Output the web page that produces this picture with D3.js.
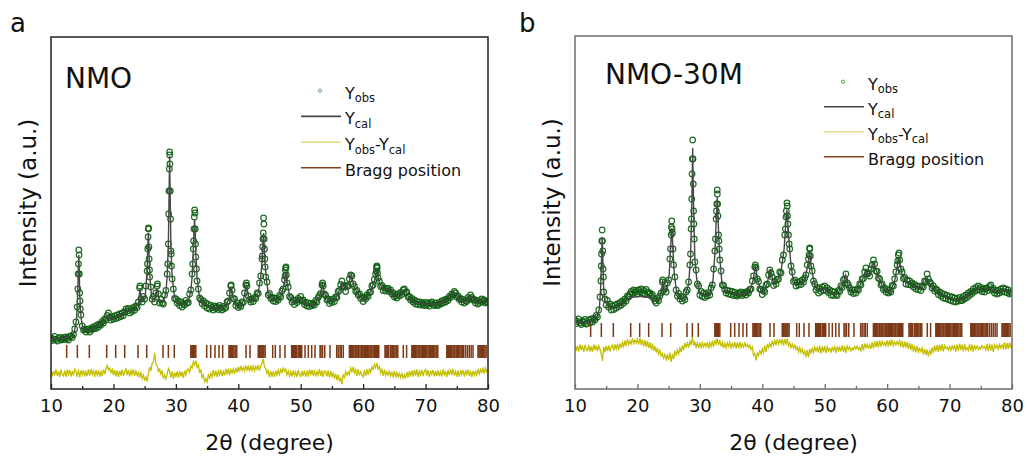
<!DOCTYPE html>
<html>
<head>
<meta charset="utf-8">
<script src="https://cdn.jsdelivr.net/npm/d3@7"></script>
<style>
  body { margin: 0; background: #fff; }
  svg { display: block; font-family: "DejaVu Sans", Verdana, sans-serif; }
</style>
</head>
<body>
<svg id="chart" width="1027" height="461"></svg>
<script>
// 2theta axis
const xTicks = [10, 20, 30, 40, 50, 60, 70, 80];
const xMinorTicks = [15, 25, 35, 45, 55, 65, 75];
const step = 0.2; // scan step of the observed rows below

// ---- NMO (a) ----
// observed intensity, each row = [start 2theta, values every 0.2 deg]
const obsA = [
  [10, 510, 485, 500, 525, 495, 480, 505, 515, 490, 500],
  [12, 515, 495, 520, 505, 490, 525, 530, 515, 545, 600],
  [14, 670, 820, 1250, 960, 740, 630, 590, 600, 570, 595],
  [16, 600, 570, 590, 615, 600, 625, 605, 640, 620, 650],
  [18, 640, 675, 660, 700, 690, 735, 760, 715, 690, 720],
  [20, 700, 730, 705, 740, 715, 750, 725, 760, 735, 770],
  [22, 800, 780, 805, 760, 795, 775, 815, 790, 830, 815],
  [24, 870, 1010, 900, 870, 925, 900, 1030, 1180, 1600, 1120],
  [26, 1020, 900, 925, 870, 960, 1030, 950, 860, 895, 860],
  [28, 850, 940, 985, 1150, 1450, 2370, 1380, 1100, 1000, 905],
  [30, 900, 860, 880, 835, 870, 820, 855, 840, 885, 860],
  [32, 865, 950, 990, 1150, 1400, 1790, 1320, 1080, 1000, 910],
  [34, 895, 855, 880, 830, 860, 810, 845, 800, 835, 815],
  [36, 790, 830, 805, 820, 795, 835, 810, 790, 825, 805],
  [38, 815, 870, 880, 960, 1030, 990, 905, 900, 835, 860],
  [40, 815, 840, 825, 870, 865, 960, 1040, 1030, 930, 895],
  [42, 870, 900, 875, 915, 905, 960, 955, 1060, 1130, 1300],
  [44, 1560, 1400, 1120, 1070, 940, 955, 905, 915, 880, 910],
  [46, 875, 905, 890, 935, 920, 980, 1000, 1090, 1210, 1060],
  [48, 1020, 925, 915, 870, 890, 845, 885, 865, 905, 890],
  [50, 925, 880, 890, 845, 865, 830, 860, 825, 855, 835],
  [52, 855, 840, 885, 870, 915, 935, 955, 1040, 1030, 950],
  [54, 935, 890, 900, 855, 885, 865, 900, 875, 920, 915],
  [56, 975, 985, 1045, 1080, 1020, 1030, 975, 1035, 1030, 1100],
  [58, 1140, 1130, 1050, 1025, 975, 985, 940, 950, 905, 920],
  [60, 875, 915, 900, 940, 925, 965, 970, 1030, 1040, 1095],
  [62, 1150, 1230, 1110, 1075, 1025, 1035, 985, 1010, 980, 1005],
  [64, 1005, 975, 990, 950, 960, 920, 935, 910, 950, 930],
  [66, 965, 945, 990, 1000, 965, 970, 920, 925, 890, 905],
  [68, 870, 890, 850, 875, 845, 870, 840, 865, 850, 835],
  [70, 865, 840, 860, 830, 855, 870, 845, 835, 860, 840],
  [72, 835, 865, 850, 880, 860, 890, 870, 900, 885, 925],
  [74, 915, 950, 940, 975, 960, 920, 930, 895, 905, 870],
  [76, 895, 860, 885, 875, 915, 900, 940, 915, 890, 895],
  [78, 860, 880, 850, 885, 865, 900, 875, 890, 860, 875],
  [80, 865]
];
// extra observed points on the flanks of the sharp peaks
const obsPeaksA = [
  [14.3, 1000], [14.35, 1150], [14.45, 1390], [14.5, 1340], [14.55, 1150], [14.65, 880], [14.7, 800],
  [24.25, 1030], [27.05, 1050],
  [25.45, 1250], [25.5, 1400], [25.55, 1520], [25.62, 1610], [25.68, 1420], [25.72, 1300], [25.78, 1190],
  [28.7, 1250], [28.85, 1750], [28.9, 1980], [28.95, 2200], [29.02, 2340], [29.05, 2250], [29.1, 1980],
  [29.15, 1700], [29.25, 1350], [29.3, 1230],
  [32.7, 1250], [32.85, 1480], [32.9, 1600], [32.95, 1720], [33.05, 1760], [33.1, 1600], [33.15, 1450], [33.3, 1200],
  [38.85, 1040], [41.3, 1060],
  [43.85, 1330], [43.9, 1420], [43.95, 1500], [44.05, 1710], [44.1, 1650], [44.15, 1500], [44.25, 1300], [44.3, 1220],
  [47.5, 1130], [47.55, 1190], [47.65, 1220], [47.7, 1140], [53.5, 1060],
  [62.1, 1180], [62.15, 1220], [62.25, 1210], [62.3, 1160]
];
// calculated profile [2theta, intensity]
const calA = [
  [10, 500], [11, 505], [12, 510], [13, 520], [13.7, 560], [14.1, 700], [14.3, 1000], [14.38, 1200], [14.45, 1340],
  [14.52, 1200], [14.6, 950], [14.8, 720], [15.1, 600], [15.6, 580], [16, 585], [17, 615], [18, 655], [18.8, 700],
  [19.2, 740], [19.6, 700], [20.5, 720], [21.5, 750], [22.1, 790], [22.6, 775], [23.3, 800], [24, 850], [24.25, 1000],
  [24.5, 880], [25.1, 930], [25.4, 1200], [25.52, 1450], [25.6, 1560], [25.68, 1420], [25.8, 1150], [26.1, 930],
  [26.6, 880], [27, 1000], [27.4, 880], [28, 870], [28.4, 960], [28.6, 1120], [28.8, 1450], [28.9, 1900], [29, 2330],
  [29.1, 1900], [29.2, 1450], [29.4, 1130], [29.7, 960], [30, 880], [31, 840], [32, 880], [32.4, 980], [32.6, 1117],
  [32.8, 1400], [32.9, 1580], [33, 1700], [33.1, 1560], [33.2, 1350], [33.4, 1117], [33.7, 950], [34, 880], [35, 830],
  [36, 810], [37, 810], [38, 830], [38.5, 900], [38.85, 1020], [39.2, 920], [39.6, 850], [40.2, 820], [40.8, 880],
  [41.3, 1040], [41.8, 880], [42.5, 890], [43.2, 970], [43.6, 1114], [43.8, 1280], [43.95, 1460], [44.05, 1560],
  [44.15, 1440], [44.3, 1240], [44.5, 1100], [44.8, 960], [45.4, 900], [46.2, 890], [46.9, 940], [47.35, 1050],
  [47.6, 1170], [47.85, 1050], [48.3, 910], [49, 860], [50, 910], [50.7, 850], [52, 840], [53, 920], [53.5, 1040],
  [54, 920], [54.6, 870], [55.5, 890], [56, 960], [56.6, 1060], [57.2, 990], [57.7, 1060], [58.1, 1140], [58.6, 1010],
  [59.2, 950], [60, 890], [61, 950], [61.8, 1080], [62.2, 1190], [62.6, 1060], [63.2, 1000], [64.2, 990], [65.2, 920],
  [66, 950], [66.7, 990], [67.4, 910], [68.5, 860], [70, 850], [72, 850], [73.5, 890], [74.6, 960], [75.6, 890],
  [76.3, 870], [77.3, 930], [78.3, 860], [79, 890], [80, 860]
];
// Yobs - Ycal, same 0.2 deg rows
const diffA = [
  [10, 30, -35, 20, -25, 40, -30, 15, -40, 35, -20],
  [12, -30, 25, -40, 35, -15, 30, -35, 20, -25, 40],
  [14, 20, -40, 35, -45, 25, -20, 30, -35, 15, -30],
  [16, 35, -25, 40, -15, 20, -40, 30, -20, 25, -35],
  [18, 15, -30, 35, -10, 45, 75, 30, 50, 5, 35],
  [20, -20, 30, -35, 25, -40, 20, -25, 35, -30, 15],
  [22, 40, -20, 30, -35, 25, -15, 35, -30, 20, -25],
  [24, 5, -45, 10, -55, -20, -70, -40, -85, -10, 60],
  [26, 20, 95, 110, 200, 90, 75, 15, 40, -10, 25],
  [28, -55, -20, -60, -15, 45, 20, -45, 15, -60, 5],
  [30, -40, 15, -45, 20, -35, 10, -50, 25, -20, 30],
  [32, 40, 5, 70, 50, 110, 80, 125, 55, 80, 0],
  [34, 35, -45, -20, -85, -55, -90, -20, -50, -5, -40],
  [36, 30, -35, 25, -40, 20, -20, 35, -30, 15, -25],
  [38, 40, -15, 45, -20, 35, 0, 40, -10, 50, 5],
  [40, 60, 15, 70, 25, 55, 20, 75, 30, 65, 20],
  [42, 75, 25, 70, 20, 65, 35, 80, 25, 70, 95],
  [44, 140, 60, 45, -5, 25, -45, 20, -35, 10, -40],
  [46, 25, -20, 30, -15, 35, 5, 50, 20, 40, -20],
  [48, 20, -30, 15, -35, 25, -25, 10, -40, 30, -15],
  [50, -35, 20, -30, 25, -40, 15, -25, 35, -20, 30],
  [52, -25, 30, -35, 15, -20, 40, -30, 25, -40, 20],
  [54, 15, -35, 25, -45, 20, -40, 5, -55, -10, -70],
  [56, -15, -85, -45, -115, -20, -45, 15, -20, 10, -15],
  [58, 50, 15, 60, 0, 35, -30, 40, -25, 15, -20],
  [60, -40, 30, -30, 40, -20, 45, 5, 60, 35, 85],
  [62, 55, 100, 40, 65, 0, 35, -30, 35, -25, 15],
  [64, -20, 15, -30, 5, -35, 20, -45, 10, -40, -5],
  [66, -45, -5, -50, -15, -55, 10, -45, 20, -35, 25],
  [68, -35, 30, -25, 35, -40, 20, -20, 30, -30, 15],
  [70, 35, -25, 30, -40, 25, -15, 30, -35, 20, -30],
  [72, 25, -30, 15, -35, 40, -25, 20, -40, 30, -20],
  [74, 35, -20, 40, -25, 15, -35, 25, -40, 30, -15],
  [76, 30, -35, 20, -15, 35, -30, 25, -40, 20, -25],
  [78, 15, -20, 40, -10, 35, 5, 45, -5, 50, 10],
  [80, 30]
];

// ---- NMO-30M (b) ----
const obsB = [
  [10, 690, 655, 675, 700, 660, 645, 680, 665, 695, 650],
  [12, 655, 690, 665, 700, 670, 705, 690, 735, 720, 790],
  [14, 920, 1230, 1480, 970, 900, 840, 885, 820, 850, 790],
  [16, 830, 795, 840, 810, 850, 825, 865, 840, 880, 860],
  [18, 900, 880, 930, 920, 950, 975, 955, 990, 965, 985],
  [20, 950, 990, 970, 1000, 960, 985, 945, 995, 970, 950],
  [22, 960, 930, 945, 905, 880, 860, 905, 885, 930, 960],
  [24, 1070, 985, 1000, 970, 1060, 1090, 1300, 1540, 1560, 1240],
  [26, 1120, 990, 930, 955, 900, 925, 880, 915, 895, 970],
  [28, 990, 1070, 1240, 1600, 2300, 1780, 1270, 1190, 1050, 1030],
  [30, 940, 975, 925, 960, 915, 950, 930, 965, 940, 1010],
  [32, 1040, 1200, 1380, 1700, 1950, 1540, 1290, 1180, 1040, 1035],
  [34, 995, 960, 985, 950, 980, 945, 975, 935, 965, 940],
  [36, 930, 960, 945, 970, 935, 955, 965, 940, 975, 960],
  [38, 995, 1000, 1080, 1130, 1220, 1210, 1100, 1075, 1000, 995],
  [40, 945, 985, 970, 1040, 1050, 1140, 1190, 1160, 1120, 1035],
  [42, 1075, 1050, 1095, 1100, 1170, 1160, 1290, 1340, 1540, 1720],
  [44, 1830, 1540, 1400, 1230, 1170, 1075, 1090, 1030, 1065, 1040],
  [46, 1075, 1045, 1090, 1070, 1110, 1140, 1240, 1300, 1400, 1230],
  [48, 1180, 1080, 1050, 990, 1015, 960, 1005, 975, 1020, 990],
  [50, 1030, 985, 1010, 965, 990, 940, 975, 935, 970, 945],
  [52, 935, 985, 975, 1030, 1015, 1090, 1100, 1150, 1060, 1040],
  [54, 1010, 970, 990, 955, 990, 960, 1000, 990, 1050, 1040],
  [56, 1100, 1105, 1170, 1210, 1150, 1160, 1130, 1200, 1240, 1290],
  [58, 1250, 1180, 1175, 1110, 1100, 1040, 1050, 995, 1010, 970],
  [60, 995, 960, 985, 970, 1035, 1030, 1100, 1170, 1240, 1340],
  [62, 1290, 1200, 1170, 1105, 1115, 1050, 1090, 1045, 1080, 1040],
  [64, 1060, 1020, 1045, 1000, 1030, 995, 1025, 985, 1030, 1020],
  [66, 1080, 1070, 1150, 1100, 1070, 1055, 1010, 1030, 980, 1000],
  [68, 990, 945, 970, 930, 955, 910, 945, 905, 935, 895],
  [70, 925, 885, 920, 875, 910, 870, 905, 880, 915, 885],
  [72, 885, 925, 900, 940, 915, 960, 935, 975, 955, 1000],
  [74, 975, 1015, 990, 1030, 995, 1015, 975, 1000, 970, 1005],
  [76, 1010, 985, 1025, 1040, 990, 1005, 960, 985, 950, 985],
  [78, 960, 1000, 975, 1010, 970, 1000, 965, 990, 950, 970],
  [80, 955]
];
const obsPeaksB = [
  [14.15, 1080], [14.25, 1350], [14.3, 1480], [14.35, 1590], [14.45, 1380], [14.5, 1200], [14.55, 1120],
  [24.05, 1090],
  [25.3, 1400], [25.45, 1620], [25.5, 1680], [25.55, 1600], [25.7, 1400],
  [28.5, 1350], [28.65, 1700], [28.7, 1900], [28.75, 2150], [28.85, 2490], [28.9, 2300], [28.95, 2050],
  [29.05, 1650], [29.1, 1500],
  [32.5, 1500], [32.65, 1780], [32.7, 1850], [32.78, 1990], [32.85, 1850], [32.9, 1730], [33.05, 1480], [33.1, 1400],
  [38.9, 1240],
  [43.7, 1600], [43.85, 1780], [43.95, 1860], [44.05, 1730], [44.1, 1650], [44.3, 1450],
  [47.5, 1340], [47.6, 1410], [47.7, 1330], [61.7, 1280], [61.9, 1360]
];
const calB = [
  [10, 670], [11, 670], [12, 670], [13, 690], [13.6, 730], [13.9, 800], [14.1, 1000], [14.25, 1300], [14.35, 1520],
  [14.45, 1300], [14.6, 1000], [14.8, 880], [15.2, 860], [15.8, 810], [16.5, 820], [17, 840], [17.6, 860], [18.2, 890],
  [18.8, 910], [19.4, 920], [20, 925], [21, 925], [22, 915], [22.8, 880], [23.5, 900], [23.9, 990], [24.05, 1090],
  [24.25, 980], [24.7, 1000], [25.1, 1150], [25.35, 1450], [25.5, 1610], [25.65, 1450], [25.9, 1150], [26.3, 960],
  [27, 900], [27.6, 910], [28.2, 1050], [28.5, 1300], [28.7, 1800], [28.85, 2410], [29, 1800], [29.2, 1300],
  [29.5, 1100], [30, 960], [30.8, 930], [31.6, 950], [32.1, 1080], [32.4, 1350], [32.6, 1650], [32.78, 1920],
  [32.95, 1650], [33.15, 1350], [33.5, 1080], [34, 980], [35, 960], [36, 945], [37, 950], [38, 980], [38.5, 1080],
  [38.9, 1230], [39.3, 1080], [39.9, 960], [40.3, 970], [40.8, 1060], [41.3, 1200], [41.8, 1050], [42.4, 1080],
  [43, 1180], [43.5, 1400], [43.75, 1650], [43.95, 1790], [44.15, 1600], [44.5, 1300], [44.9, 1100], [45.5, 1040],
  [46.1, 1060], [46.8, 1090], [47.25, 1230], [47.6, 1360], [47.9, 1200], [48.4, 1030], [49, 980], [50, 1010],
  [51, 960], [52, 950], [52.8, 1030], [53.35, 1140], [53.9, 1000], [54.5, 970], [55.2, 980], [55.9, 1070],
  [56.6, 1180], [57.1, 1130], [57.8, 1260], [58.3, 1180], [58.9, 1070], [59.6, 990], [60.5, 970], [61.2, 1080],
  [61.85, 1310], [62.4, 1150], [63, 1070], [63.6, 1060], [64.5, 1020], [65.5, 1000], [66.4, 1110], [67, 1040],
  [68, 970], [69, 930], [70, 910], [71, 890], [72, 900], [73, 940], [74, 990], [74.6, 1010], [75.5, 980],
  [76.6, 1010], [77.5, 960], [78.4, 990], [79.2, 980], [80, 950]
];
const diffB = [
  [10, 30, -30, 20, -35, 35, -20, 25, -40, 30, -15],
  [12, -25, 30, -35, 15, -40, 35, -20, 25, -30, 20],
  [14, -10, -60, -130, 10, -40, 20, -30, 25, -35, 15],
  [16, 30, -25, 35, -10, 40, -20, 45, 0, 55, 15],
  [18, 75, 20, 85, 35, 70, 40, 95, 45, 80, 50],
  [20, 90, 35, 100, 30, 85, 15, 80, 10, 70, 0],
  [22, 55, -15, 45, -30, 20, -45, 0, -60, -25, -80],
  [24, -55, -100, -65, -115, -70, -120, -45, -140, -60, -110],
  [26, -30, -75, -20, -60, 0, -40, 25, -20, 50, 10],
  [28, 50, 5, 65, 30, 110, 25, 60, 10, 50, 0],
  [30, 55, 5, 50, 10, 45, 15, 60, -5, 55, 15],
  [32, 70, 10, 80, 40, 95, 30, 80, 15, 55, 0],
  [34, 45, 0, 50, 15, 55, 5, 45, 10, 60, -5],
  [36, 55, 0, 60, 5, 40, 10, 50, 15, 35, 5],
  [38, 30, -15, 10, -75, -55, -125, -50, -75, -30, -60],
  [40, -10, -45, 25, -40, 40, 5, 45, 15, 65, 30],
  [42, 75, 30, 85, 40, 80, 45, 90, 25, 90, 35],
  [44, 95, 20, 50, 5, 40, 0, 30, -15, 10, -40],
  [46, 5, -45, -10, -60, -30, -90, -20, -95, -10, -50],
  [48, -5, -45, 10, -30, 5, -45, 25, -55, 15, -40],
  [50, 20, -50, 10, -30, -5, -40, 5, -25, 10, -50],
  [52, 15, -25, 5, -35, 30, -40, 20, -50, 20, -15],
  [54, 10, -30, 0, -20, 15, -10, 20, -15, 5, -30],
  [56, 40, -25, 45, 5, 35, 0, 30, -10, 60, -5],
  [58, 65, 10, 70, 5, 75, 15, 65, 30, 55, 20],
  [60, 75, 15, 80, 20, 85, 25, 60, 30, 65, 35],
  [62, 70, 10, 75, 0, 65, 5, 60, -10, 50, -20],
  [64, 40, -35, 25, -45, 20, -40, -5, -35, 0, -65],
  [66, -10, -70, -15, -85, -25, -60, 5, -50, 25, -35],
  [68, 30, -40, 35, -30, 40, -35, 25, -5, 10, -20],
  [70, 15, -25, 20, -10, 30, -40, 35, -30, 45, -20],
  [72, 35, -35, 40, -20, 5, -25, 40, -30, 35, -40],
  [74, 30, -10, 20, -15, 10, -10, 25, 0, 15, -20],
  [76, 40, -30, 45, -25, 35, -40, 30, 0, 25, -10],
  [78, 35, 0, 30, -5, 55, -15, 50, -10, 55, 0],
  [80, 45]
];

// Bragg reflections (same phase for both samples)
const braggPositions = [
  12.51, 14.22, 16.14, 18.92, 20.36, 21.80, 23.94, 25.33, 27.94, 28.80, 29.75,
  32.40, 32.55, 32.70, 32.85, 33.00, 33.20,
  34.94, 35.58, 36.27, 36.91, 37.50,
  38.50, 38.65, 38.80, 38.95, 39.10, 39.30, 39.50, 39.75,
  41.24, 41.88,
  43.20, 43.35, 43.50, 43.65, 43.80, 43.95, 44.10, 44.30,
  45.51, 45.93, 46.68, 47.48,
  48.55, 48.70, 48.85, 49.00, 49.15, 49.35, 49.60, 49.80, 50.00, 50.16,
  50.69, 51.22, 51.76, 52.29,
  53.10, 53.25, 53.50, 53.85, 54.69,
  55.76, 56.00, 56.30, 56.50, 56.82,
  57.80, 57.95, 58.10, 58.25, 58.40, 58.55, 58.80, 59.00, 59.15, 59.30, 59.50, 59.70, 59.85,
  60.00, 60.20, 60.40, 60.55, 60.70, 60.90, 61.10, 61.25, 61.40, 61.60, 61.80, 61.95, 62.10, 62.30, 62.50,
  63.50, 63.65, 63.80, 63.95, 64.10, 64.40, 64.60, 64.75, 64.90, 65.10, 65.30, 65.55,
  66.43, 66.96,
  67.80, 67.95, 68.10, 68.25, 68.40, 68.60, 68.80, 68.95, 69.10, 69.30, 69.50, 69.70, 69.85,
  70.00, 70.20, 70.40, 70.60, 70.75, 70.90, 71.10, 71.30, 71.50, 71.70, 71.95,
  73.40, 73.55, 73.70, 73.85, 74.00, 74.20, 74.40, 74.55, 74.70, 74.90, 75.10, 75.30, 75.50,
  75.70, 75.90, 76.10, 76.40, 76.70, 77.00, 77.30, 77.60,
  78.40, 78.55, 78.70, 78.85, 79.00, 79.15, 79.30, 79.50, 79.70
];

// rows [start, v0, v1, ...] -> [[2theta, v], ...]
function rowsToPoints(rows) {
  const pts = [];
  rows.forEach(row => {
    row.slice(1).forEach((v, j) => pts.push([+(row[0] + j * step).toFixed(2), v]));
  });
  return pts;
}

const colors = {
  obs: "#0b5c0e",
  cal: "#474747",
  diff: "#c4bf00",
  diffLegend: "#e2de8c",
  bragg: "#7c3816"
};

const panels = [
  {
    letter: "a", letterX: 10, title: "NMO", titleX: 65, titleY: 88,
    left: 51, top: 37, right: 488, bottom: 389, yMax: 3520, frame: "#222",
    obs: rowsToPoints(obsA).concat(obsPeaksA), cal: calA, diff: rowsToPoints(diffA),
    diffOffset: 160, braggLow: 310, braggHigh: 440,
    ylabelX: 35.5, legendX: 301, legendY: 90.7, legendGap: 25.7
  },
  {
    letter: "b", letterX: 519, title: "NMO-30M", titleX: 605, titleY: 83.5,
    left: 575, top: 36, right: 1012, bottom: 389, yMax: 3530, frame: "#6e6e6e",
    obs: rowsToPoints(obsB).concat(obsPeaksB), cal: calB, diff: rowsToPoints(diffB),
    diffOffset: 410, braggLow: 520, braggHigh: 660,
    ylabelX: 560, legendX: 824, legendY: 81.7, legendGap: 25
  }
];

const svg = d3.select("#chart");

function addLabel(g, x, y, parts) {
  // parts: [text, isSubscript]
  const t = g.append("text").attr("x", x).attr("y", y)
    .attr("font-size", 16).attr("fill", "#111");
  let down = false;
  parts.forEach(([s, sub]) => {
    const ts = t.append("tspan").text(s);
    if (sub && !down) { ts.attr("dy", 3.5).attr("font-size", 11.5); down = true; }
    else if (sub) ts.attr("font-size", 11.5);
    else if (down) { ts.attr("dy", -3.5); down = false; }
  });
}

function drawPanel(p, i) {
  const w = p.right - p.left, h = p.bottom - p.top;
  const x = d3.scaleLinear().domain([10, 80]).range([0, w]);
  const y = d3.scaleLinear().domain([0, p.yMax]).range([h, 0]);

  const g = svg.append("g").attr("transform", `translate(${p.left},${p.top})`);

  g.append("clipPath").attr("id", "clip" + i)
    .append("rect").attr("width", w).attr("height", h);
  const plot = g.append("g").attr("clip-path", `url(#clip${i})`);

  // observed points
  plot.append("g").selectAll("circle")
    .data(p.obs)
    .join("circle")
    .attr("cx", d => x(d[0]))
    .attr("cy", d => y(d[1]))
    .attr("r", 2.8)
    .attr("fill", "none")
    .attr("stroke", colors.obs)
    .attr("stroke-width", 1.2)
    .attr("stroke-opacity", 0.9);

  // calculated line
  plot.append("path")
    .datum(p.cal)
    .attr("fill", "none")
    .attr("stroke", colors.cal)
    .attr("stroke-width", 1.4)
    .attr("d", d3.line().x(d => x(d[0])).y(d => y(d[1])));

  // Bragg ticks
  plot.append("g").selectAll("line")
    .data(braggPositions)
    .join("line")
    .attr("x1", d => x(d)).attr("x2", d => x(d))
    .attr("y1", y(p.braggLow)).attr("y2", y(p.braggHigh))
    .attr("stroke", colors.bragg)
    .attr("stroke-width", 1.5);

  // difference curve
  plot.append("path")
    .datum(p.diff)
    .attr("fill", "none")
    .attr("stroke", colors.diff)
    .attr("stroke-width", 1.3)
    .attr("d", d3.line().x(d => x(d[0])).y(d => y(d[1] + p.diffOffset)));

  // x axis, ticks inward
  const ax = g.append("g").attr("transform", `translate(0,${h})`)
    .call(d3.axisBottom(x).tickValues(xTicks).tickSizeInner(-5).tickSizeOuter(0).tickPadding(10));
  ax.select(".domain").remove();
  ax.selectAll("text").attr("font-size", 18).attr("font-family", "DejaVu Sans, Verdana, sans-serif").attr("fill", "#111");
  ax.selectAll("line").attr("stroke", p.frame).attr("stroke-width", 1.3);

  const axm = g.append("g").attr("transform", `translate(0,${h})`)
    .call(d3.axisBottom(x).tickValues(xMinorTicks).tickSize(-3).tickFormat(""));
  axm.select(".domain").remove();
  axm.selectAll("line").attr("stroke", p.frame).attr("stroke-width", 1.3);

  g.append("rect")
    .attr("width", w).attr("height", h)
    .attr("fill", "none")
    .attr("stroke", p.frame)
    .attr("stroke-width", 1.5);

  // axis titles
  svg.append("text")
    .attr("x", p.left + w / 2).attr("y", 450)
    .attr("text-anchor", "middle").attr("font-size", 22).attr("fill", "#111")
    .text("2θ (degree)");
  svg.append("text")
    .attr("transform", `translate(${p.ylabelX},${p.top + h / 2 - 10}) rotate(-90)`)
    .attr("text-anchor", "middle").attr("font-size", 23).attr("fill", "#111")
    .text("Intensity (a.u.)");

  svg.append("text").attr("x", p.letterX).attr("y", 32)
    .attr("font-size", 26).attr("fill", "#111").text(p.letter);
  svg.append("text").attr("x", p.titleX).attr("y", p.titleY)
    .attr("font-size", 28).attr("fill", "#111").text(p.title);

  // legend
  const lg = svg.append("g");
  const lx = p.legendX, ly = p.legendY, gap = p.legendGap, tx = lx + 44;
  lg.append("circle").attr("cx", lx + 19).attr("cy", ly).attr("r", 1.6)
    .attr("fill", "none").attr("stroke", "#2d8a2d").attr("stroke-width", 0.8);
  addLabel(lg, tx, ly + 8, [["Y"], ["obs", true]]);

  const rows = [
    { color: colors.cal, label: [["Y"], ["cal", true]] },
    { color: colors.diffLegend, label: [["Y"], ["obs", true], ["-"], ["Y"], ["cal", true]] },
    { color: "#8a3e1c", label: [["Bragg position"]] }
  ];
  rows.forEach((r, k) => {
    const yy = ly + gap * (k + 1);
    lg.append("line").attr("x1", lx).attr("x2", lx + 40).attr("y1", yy).attr("y2", yy)
      .attr("stroke", r.color).attr("stroke-width", 1.6);
    addLabel(lg, tx, yy + 8, r.label);
  });
}

panels.forEach(drawPanel);
</script>
</body>
</html>
